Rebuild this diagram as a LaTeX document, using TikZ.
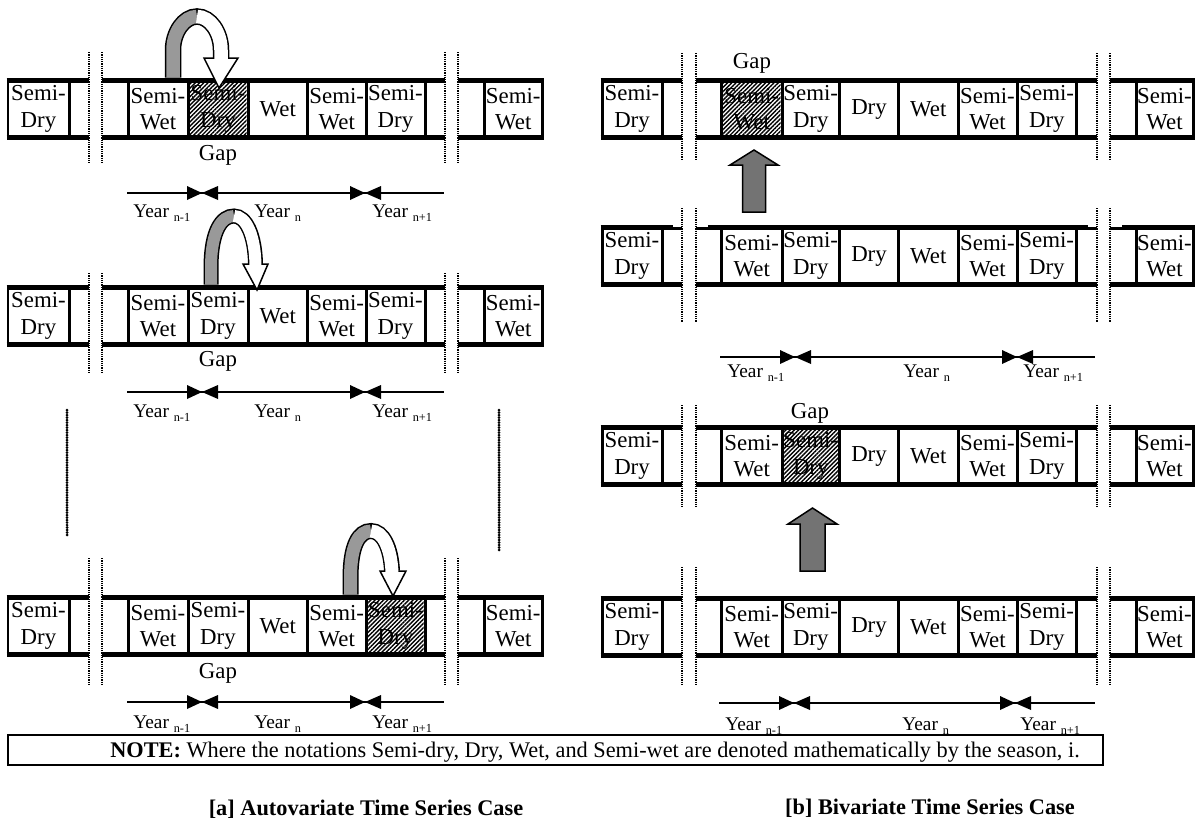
\documentclass[tikz,border=0pt]{standalone}
\usepackage{fontspec}
\setmainfont{Liberation Serif}
\usetikzlibrary{patterns.meta}
\newcommand{\seg}[4]{%
  \draw[outerln] (#2,#1) -- (#3,#1);
  \draw[outerln] (#2,#1+57) -- (#3,#1+57);
  \foreach \xx in {#4} {\draw[divln] (\xx,#1) -- (\xx,#1+57);}%
}
\newcommand{\bx}[5]{\node[lbl] (#1) at ({(#2+#3)/2},#4+29) {#5};}
\newcommand{\hatchbox}[3]{\fill[hatch] (#1+1.5,#3+2.5) rectangle (#2-1.5,#3+54.5);}
\newcommand{\brks}[3]{\foreach \xx in {#1} {\draw[brk] (\xx,#2) -- (\xx,#3);}}
\newcommand{\leftrow}[2]{%
  \seg{#2}{6.5}{89}{8,69}
  \seg{#2}{102}{445}{128,188,248,307.5,366,425}
  \seg{#2}{458}{543.5}{484.5,542}
  \bx{#1a}{8}{69}{#2}{Semi-\\Dry}
  \bx{#1b}{128}{188}{#2}{Semi-\\Wet}
  \bx{#1c}{188}{248}{#2}{Semi-\\Dry}
  \bx{#1d}{248}{307.5}{#2}{Wet}
  \bx{#1e}{307.5}{366}{#2}{Semi-\\Wet}
  \bx{#1f}{366}{425}{#2}{Semi-\\Dry}
  \bx{#1g}{484.5}{542}{#2}{Semi-\\Wet}
}
\newcommand{\rightrow}[2]{%
  \seg{#2}{600.5}{682}{602,662}
  \seg{#2}{696}{1097}{721.5,782,839.5,898.5,958,1017,1076.5}
  \seg{#2}{1110}{1194.5}{1136,1193}
  \bx{#1a}{602}{662}{#2}{Semi-\\Dry}
  \bx{#1b}{721.5}{782}{#2}{Semi-\\Wet}
  \bx{#1c}{782}{839.5}{#2}{Semi-\\Dry}
  \bx{#1d}{839.5}{898.5}{#2}{Dry}
  \bx{#1e}{898.5}{958}{#2}{Wet}
  \bx{#1f}{958}{1017}{#2}{Semi-\\Wet}
  \bx{#1g}{1017}{1076.5}{#2}{Semi-\\Dry}
  \bx{#1h}{1136}{1193}{#2}{Semi-\\Wet}
}
\newcommand{\yearrow}[6]{% name, y, xs, xe, tip1, tip2
  \coordinate (#1s) at (#3,#2);
  \coordinate (#1e) at (#4,#2);
  \draw[yearln] (#1s) -- (#1e);
  \fill (#5,#2) -- (#5-15,#2-7) -- (#5-15,#2+7) -- cycle;
  \fill (#5,#2) -- (#5+16,#2-7) -- (#5+16,#2+7) -- cycle;
  \fill (#6,#2) -- (#6-15,#2-7) -- (#6-15,#2+7) -- cycle;
  \fill (#6,#2) -- (#6+16,#2-7) -- (#6+16,#2+7) -- cycle;
}
\newcommand{\yr}[1]{Year\ \raisebox{-2.3pt}{\fontsize{7}{8}\selectfont #1}}
\begin{document}
\begin{tikzpicture}[x=0.02cm,y=-0.02cm,
  outerln/.style={line width=0.1cm},
  divln/.style={line width=0.06cm},
  brk/.style={line width=0.045cm, dash pattern=on 0.025cm off 0.02cm},
  vdots/.style={line width=0.06cm, line cap=round, dash pattern=on 0pt off 0.05cm},
  yearln/.style={line width=0.028cm},
  lbl/.style={font=\fontsize{13}{15}\selectfont, align=center, inner sep=0pt},
  gaplbl/.style={font=\fontsize{13}{15}\selectfont, inner sep=0pt, anchor=base},
  yearlbl/.style={font=\fontsize{11}{13}\selectfont, inner sep=0pt, anchor=base west},
  hatch/.style={pattern={Lines[angle=45,distance=1.7pt,line width=0.8pt]}, pattern color=black},
  bandout/.style={draw=black, line cap=butt},
  headst/.style={fill=white, draw=black, line width=0.03cm, line join=miter},
  uparr/.style={fill=black!55, draw=black, line width=0.03cm, line join=miter},
]
\useasboundingbox (0,0) rectangle (1195,823);
\fill[white] (0,0) rectangle (1195,823);

% ---------- hatched (gap) boxes ----------
\hatchbox{188}{248}{80}
\hatchbox{366}{425}{597}
\hatchbox{721.5}{782}{80}
\hatchbox{782}{839.5}{427}

% ---------- left panel strips ----------
\leftrow{La}{80}
\leftrow{Lb}{287}
\leftrow{Lc}{597}

% ---------- right panel strips ----------
\rightrow{Ra}{80}
\rightrow{Rb}{227}
\rightrow{Rc}{427}
\rightrow{Rd}{598}
% notches in the top border of right row 2
\fill[white] (673,224.4) rectangle (682,227.4);
\fill[white] (696,224.4) rectangle (708,227.4);
\fill[white] (1088,224.4) rectangle (1097,227.4);
\fill[white] (1110,224.4) rectangle (1122,227.4);

% ---------- break lines ----------
\brks{89,102,445,458}{52}{163}
\brks{89,102,445,458}{273}{372}
\brks{89,102,445,458}{558}{684}
\brks{682,696,1097,1110}{53}{160}
\brks{682,696,1097,1110}{208}{322}
\brks{682,696,1097,1110}{405}{507}
\brks{682,696,1097,1110}{567}{685}
\draw[vdots] (67,410) -- (67,537);
\draw[vdots] (499,410) -- (499,552);

% ---------- gap labels ----------
\node[gaplbl] (gapLa) at (218,160) {Gap};
\node[gaplbl] (gapLb) at (218,366) {Gap};
\node[gaplbl] (gapLc) at (218,678) {Gap};
\node[gaplbl] (gapRa) at (752,68) {Gap};
\node[gaplbl] (gapRc) at (810,418) {Gap};

% ---------- year arrows ----------
\yearrow{ya}{193}{127}{444}{202}{365}
\yearrow{yb}{392}{127}{444}{202}{365}
\yearrow{yc}{702}{127}{444}{202}{365}
\yearrow{yd}{357}{720}{1095}{795}{1017}
\yearrow{ye}{703}{719}{1095}{794}{1015}

\node[yearlbl] (ya1) at (133,217) {\yr{n-1}};
\node[yearlbl] (ya2) at (254,217) {\yr{n}};
\node[yearlbl] (ya3) at (372,217) {\yr{n+1}};
\node[yearlbl] (yb1) at (133,417) {\yr{n-1}};
\node[yearlbl] (yb2) at (254,417) {\yr{n}};
\node[yearlbl] (yb3) at (372,417) {\yr{n+1}};
\node[yearlbl] (yc1) at (133,728) {\yr{n-1}};
\node[yearlbl] (yc2) at (254,728) {\yr{n}};
\node[yearlbl] (yc3) at (372,728) {\yr{n+1}};
\node[yearlbl] (yd1) at (727,377) {\yr{n-1}};
\node[yearlbl] (yd2) at (903,377) {\yr{n}};
\node[yearlbl] (yd3) at (1023,377) {\yr{n+1}};
\node[yearlbl] (ye1) at (725,730) {\yr{n-1}};
\node[yearlbl] (ye2) at (902,730) {\yr{n}};
\node[yearlbl] (ye3) at (1020,730) {\yr{n+1}};

% ---------- curved arrows (left panel) ----------
% row 1
\draw[bandout, line width=0.33cm] (173,77.5) -- (173,50) .. controls (173,32.6) and (183.7,16.5) .. (197,16.5)
   .. controls (210.3,16.5) and (221,32.6) .. (221,50) -- (221,58);
\draw[headst] (204,58) -- (238,58) -- (219,88) -- cycle;
\draw[black!40, line width=0.27cm] (173,77.5) -- (173,50) .. controls (173,32.6) and (183.7,16.5) .. (197,16.5);
\draw[white, line width=0.27cm] (197,16.5) .. controls (210.3,16.5) and (221,32.6) .. (221,50) -- (221,59.5);
% row 2
\draw[bandout, line width=0.30cm] (211,284.5) -- (211,268) .. controls (211,230) and (222,216) .. (234,216)
   .. controls (246,216) and (255,235) .. (255.5,264);
\draw[headst] (243,264) -- (268,264) -- (257,290) -- cycle;
\draw[black!40, line width=0.24cm] (211,284.5) -- (211,268) .. controls (211,230) and (222,216) .. (234,216);
\draw[white, line width=0.24cm] (234,216) .. controls (246,216) and (255,235) .. (255.5,265.5);
% row 3
\draw[bandout, line width=0.32cm] (350.5,594.5) -- (350.5,578) .. controls (350.5,545) and (359,531) .. (371,531)
   .. controls (383,531) and (391,548) .. (392,571);
\draw[headst] (380,571) -- (406,571) -- (393,596) -- cycle;
\draw[black!40, line width=0.26cm] (350.5,594.5) -- (350.5,578) .. controls (350.5,545) and (359,531) .. (371,531);
\draw[white, line width=0.26cm] (371,531) .. controls (383,531) and (391,548) .. (392,572.5);

% ---------- straight up arrows (right panel) ----------
\draw[uparr] (742.5,212) -- (742.5,165) -- (730,165) -- (754,150) -- (778,165) -- (765.5,165) -- (765.5,212) -- cycle;
\draw[uparr] (800,571) -- (800,524) -- (788,524) -- (812.5,508) -- (837,524) -- (825,524) -- (825,571) -- cycle;

% ---------- note ----------
\draw[line width=0.035cm] (8,735) rectangle (1103,765);
\node[font=\fontsize{12.7}{14}\selectfont, anchor=base west, inner sep=0pt] (note) at (110,757.5)
  {\textbf{NOTE:} Where the notations Semi-dry, Dry, Wet, and Semi-wet are denoted mathematically by the season, i.};

% ---------- captions ----------
\node[font=\bfseries\fontsize{12.7}{15}\selectfont, inner sep=0pt] (capa) at (366,809) {[a] Autovariate Time Series Case};
\node[font=\bfseries\fontsize{12.7}{15}\selectfont, inner sep=0pt] (capb) at (930,808) {[b] Bivariate Time Series Case};
\end{tikzpicture}
\end{document}
